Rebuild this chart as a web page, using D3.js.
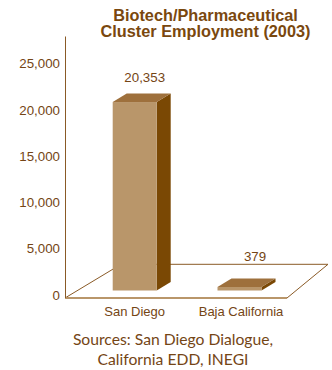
<!DOCTYPE html>
<html>
<head>
<meta charset="utf-8">
<script src="https://cdn.jsdelivr.net/npm/d3@7"></script>
<style>
  html, body { margin: 0; padding: 0; background: #ffffff; }
  svg { display: block; }
</style>
</head>
<body>
<svg id="chart" width="332" height="370"></svg>
<script>
// Employment in the biotech/pharmaceutical cluster, 2003
const categories = ["San Diego", "Baja California"];
const employment = [20353, 379];
const valueLabels = ["20,353", "379"];
const tickValues = [0, 5000, 10000, 15000, 20000, 25000];
const titleLines = ["Biotech/Pharmaceutical", "Cluster Employment (2003)"];
const sourceLines = ["Sources: San Diego Dialogue,", "California EDD, INEGI"];

const svg = d3.select("#chart");

const colors = {
  text: "#744515",
  title: "#7a480e",
  axis: "#8a5a26",
  front: "#b9966a",
  top: "#9e703c",
  side: "#7a4804",
  floorFront: "#b9966a"
};

// Value scale (axis labels); bars sit slightly behind the axis plane
const y = d3.scaleLinear().domain([0, 25000]).range([295, 63.5]);
const barLift = 4.5;
const x = d3.scalePoint().domain(categories).range([134.7, 239.5]);
const barW = 44;
const depth = { dx: 14, dy: -8.5 };

// Floor parallelogram
const floor = { x0: 65, x1: 287, yFront: 298, yBack: 264.3, leftShift: 56, rightShift: 41 };
const g = svg.append("g");

g.append("path")
  .attr("d", `M${floor.x0},${floor.yFront} L${floor.x0 + floor.leftShift},${floor.yBack} L${floor.x1 + floor.rightShift},${floor.yBack} L${floor.x1},${floor.yFront}`)
  .attr("fill", "none")
  .attr("stroke", colors.axis)
  .attr("stroke-width", 1);

g.append("line")
  .attr("x1", floor.x0).attr("x2", floor.x1)
  .attr("y1", floor.yFront).attr("y2", floor.yFront)
  .attr("stroke", colors.floorFront)
  .attr("stroke-width", 2);

// Vertical value axis
const axis = d3.axisLeft(y).tickValues(tickValues).tickSize(0).tickPadding(5.5)
  .tickFormat(d3.format(","));
const axisG = g.append("g").attr("transform", "translate(65.5,0)").call(axis);
axisG.select(".domain").remove();
axisG.selectAll("text")
  .attr("fill", colors.text)
  .style("font-family", "'Liberation Sans', Arial, sans-serif")
  .style("font-size", "13.3px");
g.append("line")
  .attr("x1", 65.5).attr("x2", 65.5)
  .attr("y1", 36.5).attr("y2", 298)
  .attr("stroke", colors.axis).attr("stroke-width", 1);

// 3D bars
const bars = g.selectAll("g.bar")
  .data(categories.map((c, i) => ({ c, v: employment[i], label: valueLabels[i], i })))
  .enter().append("g").attr("class", "bar");

bars.each(function(d) {
  const sel = d3.select(this);
  const left = x(d.c) - barW / 2, right = x(d.c) + barW / 2;
  const top = y(d.v) - barLift, bottom = y(0) - barLift;
  const { dx, dy } = depth;
  // side face
  sel.append("path")
    .attr("d", `M${right},${top} L${right + dx},${top + dy} L${right + dx},${bottom + dy} L${right},${bottom} Z`)
    .attr("fill", colors.side);
  // top face
  sel.append("path")
    .attr("d", `M${left},${top} L${left + dx},${top + dy} L${right + dx},${top + dy} L${right},${top} Z`)
    .attr("fill", colors.top);
  // front face
  sel.append("rect")
    .attr("x", left).attr("y", top)
    .attr("width", barW).attr("height", bottom - top)
    .attr("fill", colors.front);
  // value label, centred over the bar including its depth
  sel.append("text")
    .attr("x", x(d.c) + (d.i === 0 ? 10 : 15.5))
    .attr("y", Math.min(top + dy - 12, 261))
    .attr("text-anchor", "middle")
    .attr("fill", colors.text)
    .style("font-family", "'Liberation Sans', Arial, sans-serif")
    .style("font-size", "13.3px")
    .text(d.label);
});

// Category labels
g.selectAll("text.cat")
  .data(categories)
  .enter().append("text")
  .attr("class", "cat")
  .attr("x", (d, i) => x(d) + (i === 1 ? 1.5 : 0))
  .attr("y", 316)
  .attr("text-anchor", "middle")
  .attr("fill", colors.text)
  .style("font-family", "'Liberation Sans', Arial, sans-serif")
  .style("font-size", "13px")
  .text(d => d);

// Title
svg.selectAll("text.title")
  .data(titleLines)
  .enter().append("text")
  .attr("class", "title")
  .attr("x", 205.5)
  .attr("y", (d, i) => 20.7 + i * 16.7)
  .attr("text-anchor", "middle")
  .attr("fill", colors.title)
  .style("font-family", "'Liberation Sans', Arial, sans-serif")
  .style("font-weight", "bold")
  .style("font-size", "16.3px")
  .text(d => d);

// Sources
svg.selectAll("text.src")
  .data(sourceLines)
  .enter().append("text")
  .attr("class", "src")
  .attr("x", 173)
  .attr("y", (d, i) => 345 + i * 20)
  .attr("text-anchor", "middle")
  .attr("fill", colors.text)
  .style("font-family", "Lato, 'Open Sans', sans-serif")
  .style("font-size", "15.7px")
  .text(d => d);
</script>
</body>
</html>
